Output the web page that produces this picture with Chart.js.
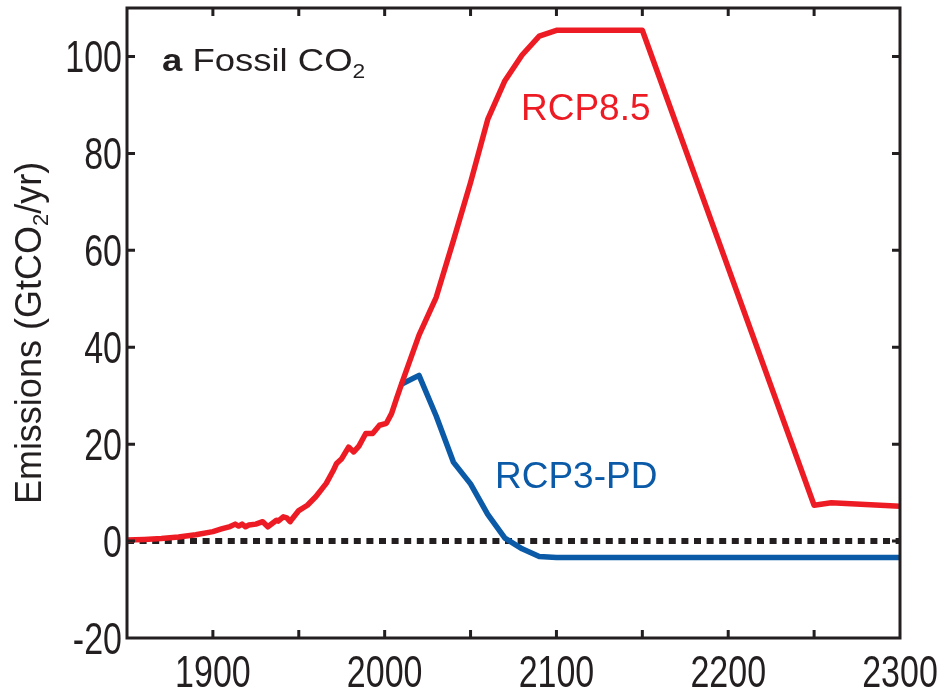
<!DOCTYPE html>
<html lang="en">
<head>
<meta charset="UTF-8">
<title>Fossil CO2 emissions</title>
<script src="https://cdn.jsdelivr.net/npm/chart.js"></script>
<style>
  html, body { margin: 0; padding: 0; background: #fff; }
</style>
</head>
<body>
<canvas id="emissions" width="942" height="689"></canvas>
<script>
// historical fossil emissions, GtCO2/yr
const histYears = [1850, 1860, 1870, 1880, 1890, 1900, 1905, 1910, 1913, 1915, 1917, 1919, 1921, 1925, 1929, 1932, 1937, 1938, 1941, 1943, 1945, 1946, 1950, 1955, 1960, 1966, 1970, 1972, 1975, 1979, 1982, 1985, 1989, 1993, 1997, 2001, 2004, 2007, 2010];
const histValues = [0.2, 0.35, 0.55, 0.85, 1.3, 1.95, 2.5, 3.0, 3.5, 3.1, 3.5, 2.95, 3.3, 3.5, 4.0, 2.95, 4.3, 4.1, 5.0, 4.8, 4.0, 4.5, 6.3, 7.4, 9.2, 11.9, 14.5, 16.0, 17.0, 19.4, 18.4, 19.6, 22.2, 22.2, 23.9, 24.3, 26.3, 29.5, 32.6];

// RCP8.5 from 2020, extended to 2300
const rcp85Years = [2020, 2030, 2040, 2050, 2060, 2070, 2080, 2090, 2100, 2150, 2250, 2260, 2300];
const rcp85Values = [42.5, 50.3, 62, 74, 87, 95, 100.3, 104.2, 105.4, 105.4, 7.4, 7.9, 7.2];

// RCP3-PD branching off in 2010
const rcp3Years = [2010, 2020, 2030, 2040, 2050, 2060, 2070, 2080, 2090, 2100, 2300];
const rcp3Values = [32.4, 34.2, 25.8, 16.3, 11.8, 5.5, 0.6, -1.6, -3.2, -3.4, -3.4];

const zeroYears = [1850, 2300];
const zeroValues = [0, 0];

const ink = '#231f20';
const red = '#ed1c24';
const blue = '#0b5aa8';
const textFont = "'Liberation Sans', Arial, sans-serif";

const pts = (xs, ys) => xs.map((x, i) => ({ x, y: ys[i] }));

// frame around the plot with inward ticks on all four sides
const frame = {
  id: 'frame',
  afterDatasetsDraw(chart) {
    const { ctx, chartArea: a, scales: { x, y } } = chart;
    ctx.save();
    ctx.strokeStyle = ink;
    ctx.lineWidth = 3;
    ctx.beginPath();
    x.ticks.forEach(t => {
      const px = x.getPixelForValue(t.value);
      if (px <= a.left + 2 || px >= a.right - 2) return;
      ctx.moveTo(px, a.bottom); ctx.lineTo(px, a.bottom - 8);
      ctx.moveTo(px, a.top); ctx.lineTo(px, a.top + 8);
    });
    y.ticks.forEach(t => {
      const py = y.getPixelForValue(t.value);
      if (py <= a.top + 2 || py >= a.bottom - 2) return;
      ctx.moveTo(a.left, py); ctx.lineTo(a.left + 8, py);
      ctx.moveTo(a.right, py); ctx.lineTo(a.right - 8, py);
    });
    ctx.stroke();
    ctx.strokeRect(a.left, a.top, a.right - a.left, a.bottom - a.top);
    ctx.restore();
  }
};

// tick numbers, drawn tall and narrow like the original figure
const tickLabels = {
  id: 'tickLabels',
  afterDraw(chart) {
    const { ctx, chartArea: a, scales: { x, y } } = chart;
    const stretch = 1.3;
    ctx.save();
    ctx.fillStyle = ink;
    ctx.font = '34px ' + textFont;
    ctx.textBaseline = 'alphabetic';
    ctx.textAlign = 'center';
    x.ticks.forEach(t => {
      if (t.value % 100 !== 0) return;
      ctx.save();
      ctx.translate(x.getPixelForValue(t.value), a.bottom + 49);
      ctx.scale(1, stretch);
      ctx.fillText(String(t.value), 0, 0);
      ctx.restore();
    });
    ctx.textAlign = 'right';
    y.ticks.forEach(t => {
      ctx.save();
      ctx.translate(a.left - 5, y.getPixelForValue(t.value) + 15.5);
      ctx.scale(1, stretch);
      ctx.fillText(String(t.value), 0, 0);
      ctx.restore();
    });
    ctx.restore();
  }
};

// draw a run of text pieces, each piece [text, font, dy]
function runWidth(ctx, parts) {
  return parts.reduce((w, p) => { ctx.font = p[1]; return w + ctx.measureText(p[0]).width; }, 0);
}
function drawRun(ctx, parts, x, y) {
  parts.forEach(p => {
    ctx.font = p[1];
    ctx.fillText(p[0], x, y + (p[2] || 0));
    x += ctx.measureText(p[0]).width;
  });
}

const labels = {
  id: 'labels',
  afterDraw(chart) {
    const ctx = chart.ctx;
    ctx.save();
    ctx.textAlign = 'left';
    ctx.textBaseline = 'alphabetic';

    ctx.fillStyle = ink;
    ctx.save();
    ctx.translate(162, 71);
    ctx.scale(1.14, 1);
    drawRun(ctx, [
      ['a', 'bold 32px ' + textFont],
      [' Fossil CO', '32px ' + textFont],
      ['2', '20px ' + textFont, 7]
    ], 0, 0);
    ctx.restore();

    ctx.fillStyle = red;
    drawRun(ctx, [['RCP8.5', '37px ' + textFont]], 521, 120);
    ctx.fillStyle = blue;
    drawRun(ctx, [['RCP3-PD', '37px ' + textFont]], 495, 488);

    // y axis title
    const title = [
      ['Emissions (GtCO', '36px ' + textFont],
      ['2', '22px ' + textFont, 7],
      ['/yr)', '36px ' + textFont]
    ];
    ctx.fillStyle = ink;
    ctx.translate(41, 333);
    ctx.rotate(-Math.PI / 2);
    drawRun(ctx, title, -runWidth(ctx, title) / 2, 0);
    ctx.restore();
  }
};

const noPad = s => { s.paddingTop = 0; s.paddingBottom = 0; s.paddingLeft = 0; s.paddingRight = 0; };

new Chart(document.getElementById('emissions'), {
  type: 'line',
  data: {
    datasets: [
      {
        label: 'RCP8.5',
        data: pts(histYears.concat(rcp85Years), histValues.concat(rcp85Values)),
        borderColor: red,
        borderWidth: 5.5,
        order: 0
      },
      {
        label: 'RCP3-PD',
        data: pts(rcp3Years, rcp3Values),
        borderColor: blue,
        borderWidth: 5.5,
        order: 1
      },
      {
        label: 'zero',
        data: pts(zeroYears, zeroValues),
        borderColor: ink,
        borderWidth: 6,
        borderDash: [7, 5.6],
        borderCapStyle: 'butt',
        order: 2
      }
    ]
  },
  options: {
    responsive: false,
    animation: false,
    devicePixelRatio: 1,
    layout: { padding: { top: 8, right: 42, left: 0, bottom: 0 } },
    elements: {
      point: { radius: 0 },
      line: { tension: 0, borderJoinStyle: 'round', borderCapStyle: 'round' }
    },
    plugins: {
      legend: { display: false },
      tooltip: { enabled: false }
    },
    scales: {
      x: {
        type: 'linear',
        min: 1850,
        max: 2300,
        grid: { display: false, drawTicks: false },
        border: { display: false },
        ticks: { stepSize: 50, autoSkip: false, display: false },
        afterFit: s => { s.height = 51; noPad(s); }
      },
      y: {
        min: -20,
        max: 110,
        grid: { display: false, drawTicks: false },
        border: { display: false },
        ticks: { stepSize: 20, display: false },
        afterBuildTicks: s => { s.ticks = s.ticks.filter(t => t.value % 20 === 0); },
        afterFit: s => { s.width = 127; noPad(s); }
      }
    }
  },
  plugins: [frame, tickLabels, labels]
});
</script>
</body>
</html>
